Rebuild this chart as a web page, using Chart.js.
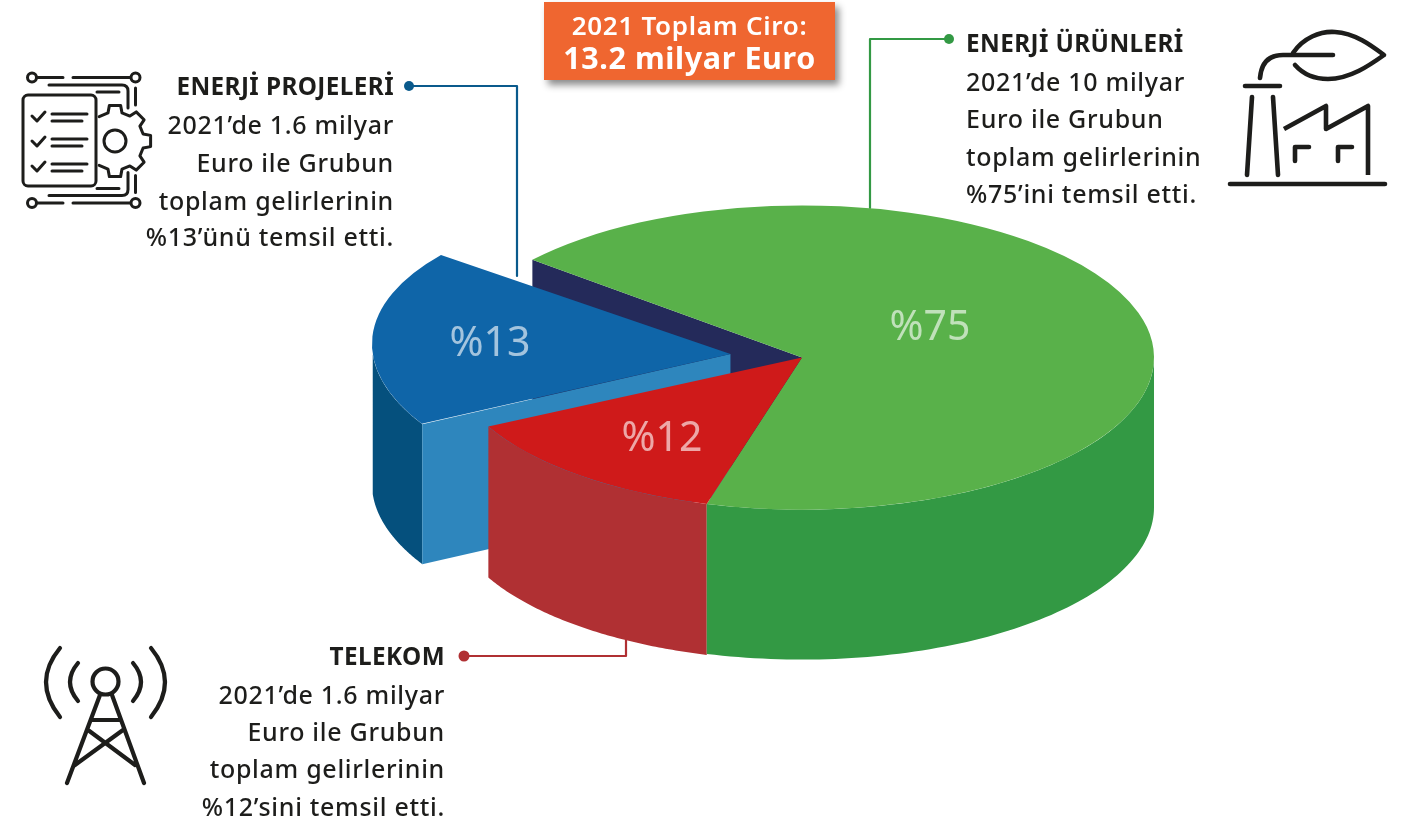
<!DOCTYPE html>
<html lang="tr"><head><meta charset="utf-8">
<script src="https://cdn.jsdelivr.net/npm/chart.js@4"></script>
<style>
html,body{margin:0;padding:0;background:#fff;overflow:hidden}
#stage{position:relative;width:1414px;height:825px;overflow:hidden;font-family:"Noto Sans",sans-serif;color:#1d1d1b}
#stage svg,#stage canvas{position:absolute;left:0;top:0}
.t{position:absolute;white-space:nowrap;font-size:25px;font-weight:500;line-height:38px;height:38px;letter-spacing:.7px}
.t.b{font-weight:700;font-size:24.3px;letter-spacing:.4px}
.r{text-align:right;transform:translateX(-100%)}
.p{position:absolute;font-size:41px;line-height:50px;color:rgba(255,255,255,.62);transform:translateX(-50%);white-space:nowrap}
#box{position:absolute;left:544px;top:2px;width:291px;height:78px;background:#ef6630;box-shadow:4px 5px 7px rgba(0,0,0,.45);color:#fff;text-align:center;font-weight:600}
#box div{position:absolute;left:0;right:0;white-space:nowrap}
</style></head><body>
<div id="stage">
<svg id="art" width="1414" height="825" fill="none" stroke="#1d1d1b" stroke-linecap="round" stroke-linejoin="round">
 <g stroke-width="2.2">
  <path stroke="#0a5a8c" d="M409 86H517V276"/>
  <path stroke="#339944" d="M949 39H870V208"/>
  <path stroke="#b03033" d="M464 656H626V640"/>
 </g>
 <circle cx="409" cy="86" r="5" fill="#0a5a8c" stroke="none"/>
 <circle cx="949" cy="39" r="5" fill="#339944" stroke="none"/>
 <circle cx="464" cy="656" r="5.5" fill="#b03033" stroke="none"/>
 <g stroke-width="3">
  <rect x="23" y="95" width="73" height="91" rx="5"/>
  <path d="M32 116l5 5l8-9M32 141l5 5l8-9M32 166l5 5l8-9"/>
  <path d="M52 114H87M52 121H82M52 139H87M52 146H82M52 164H87M52 171H82"/>
  <circle cx="115" cy="141" r="11"/>
  <path id="gear"/>
  <circle cx="32" cy="77.500" r="4.500"/><circle cx="135.500" cy="77.500" r="4.500"/>
  <circle cx="32" cy="203" r="4.500"/><circle cx="135.500" cy="203" r="4.500"/>
  <path d="M37 77.500H63M73 77.500H130M49 85H122Q128 85 128 91V108M97 92H119M135.500 88V105"/>
  <path d="M37 203H63M73 203H130M49 195.500H122Q128 195.500 128 189.500V172.500M97 188.500H119M135.500 192.500V175.500"/>
 </g>
 <g stroke-width="4.6">
  <path d="M1230 184H1385M1245 86H1280M1252 97L1247 175M1273 97L1278 175"/>
  <path d="M1284 129L1326 106V129L1368 106V175" stroke-linecap="butt"/>
  <path d="M1295 161V147H1309M1338 161V147H1352"/>
  <path d="M1260 78Q1262 55 1283 55H1333"/>
  <path d="M1293 53C1303 38 1320 31 1335 32C1355 33 1372 46 1384 55C1370 65 1350 79 1328 79C1315 79 1303 74 1295 65"/>
 </g>
 <g stroke-width="4.2">
  <circle cx="105.500" cy="681.500" r="13"/>
  <path d="M78 663Q62 682 78 701M133 663Q149 682 133 701M60 648Q32 682 60 717M151 648Q179 682 151 717"/>
  <path d="M100 695L67 783M112 695L144 783M92 720H120M88 730L135 765M123 730L75 765"/>
 </g>
</svg>
<canvas id="c" width="1414" height="825"></canvas>
<div id="labels"></div>
<div id="box">
 <div id="b1" style="top:6px;font-size:26px;line-height:34px;letter-spacing:.7px"></div>
 <div id="b2" style="top:35px;font-size:30.5px;line-height:40px;letter-spacing:.6px;font-weight:700"></div>
</div>
</div>
<script>
// Values printed on the picture
const segments = ['ENERJİ ÜRÜNLERİ', 'TELEKOM', 'ENERJİ PROJELERİ'];
const percentLabels = [75, 12, 13];
const billionEuro = ['10', '1.6', '1.6'];
const suffixes = ['’ini', '’sini', '’ünü'];
const year = '2021';
const totalBillion = '13.2';
// Sweep of each drawn slice, in degrees (the artwork is not to scale)
const drawnSweepDeg = [245.7, 47.3, 67];
// Styles
const topColors = ['#59b14a', '#cf1a1a', '#0f65a8'];
const wallColors = ['#339944', '#b03033', '#05507d'];
const cutColors = ['#242a5a', null, '#2e86bd'];
const explode = [0, 0, 288];
const depths = [150, 151, 140];
const skews = [0, 0, 0.15];
const TILT = 0.432;

const solid3d = {
  id: 'solid3d',
  beforeDatasetDraw(chart, args) {
    const ctx = chart.ctx, arcs = args.meta.data;
    const geom = arcs.map((a, i) => {
      const mid = (a.startAngle + a.endAngle) / 2, off = explode[i] / 4;
      // Chart.js widens an offset arc by offset * fix; follow it so wall and top share one rim
      const fix = 1 - Math.sin(Math.min(Math.PI, a.circumference));
      const r = a.outerRadius + off * fix, k = skews[i];
      if (k && !a.sheared) {
        // the exploded slice is drawn as a slightly sheared ellipse in the artwork
        const apexY = a.y + Math.sin(mid) * off;
        a.sheared = true;
        a.draw = function (c) {
          c.save();
          c.transform(1, 0, k * TILT, 1, -k * TILT * apexY, 0);
          Object.getPrototypeOf(a).draw.call(a, c);
          c.restore();
        };
      }
      return {a, k, cx: a.x + Math.cos(mid) * off, cy: a.y + Math.sin(mid) * off * TILT, rx: r, ry: r * TILT, d: depths[i]};
    });
    const rim = (g, ang) => [g.cx + g.rx * Math.cos(ang) + g.k * g.ry * Math.sin(ang), g.cy + g.ry * Math.sin(ang)];
    const cut = i => {
      const g = geom[i]; if (!cutColors[i]) return;
      const [px, py] = rim(g, g.a.startAngle);
      ctx.beginPath(); ctx.moveTo(g.cx, g.cy); ctx.lineTo(px, py); ctx.lineTo(px, py + g.d); ctx.lineTo(g.cx, g.cy + g.d); ctx.closePath();
      ctx.fillStyle = cutColors[i]; ctx.fill();
    };
    const wall = i => {
      const g = geom[i], s = Math.max(g.a.startAngle, 0), e = Math.min(g.a.endAngle, Math.PI), n = 80;
      ctx.beginPath();
      for (let t = 0; t <= n; t++) { const [x, y] = rim(g, s + (e - s) * t / n); ctx.lineTo(x, y); }
      for (let t = n; t >= 0; t--) { const [x, y] = rim(g, s + (e - s) * t / n); ctx.lineTo(x, y + g.d); }
      ctx.closePath();
      ctx.fillStyle = wallColors[i]; ctx.fill();
    };
    ctx.save();
    cut(0);
    wall(2); cut(2);
    wall(1);
    wall(0);
    const c = arcs[0];
    ctx.translate(c.x, c.y); ctx.scale(1, TILT); ctx.translate(-c.x, -c.y);
  },
  afterDatasetDraw(chart) { chart.ctx.restore(); }
};

new Chart(document.getElementById('c'), {
  type: 'pie',
  data: { labels: segments, datasets: [{ data: drawnSweepDeg, backgroundColor: topColors, borderWidth: 0, offset: explode, hoverOffset: 0, clip: false }] },
  options: {
    responsive: false, animation: false, radius: 352, rotation: -50,
    layout: { padding: { left: 190, bottom: 110 } },
    events: [],
    plugins: { legend: { display: false }, tooltip: { enabled: false } }
  },
  plugins: [solid3d]
});

// Text
const host = document.getElementById('labels');
function line(txt, x, y, right, bold) {
  const el = document.createElement('div');
  el.className = 't' + (right ? ' r' : '') + (bold ? ' b' : '');
  el.textContent = txt; el.style.left = x + 'px'; el.style.top = (y - 19) + 'px';
  host.appendChild(el);
}
function block(i, x, ys, right) {
  const lines = [segments[i], `${year}’de ${billionEuro[i]} milyar`, 'Euro ile Grubun', 'toplam gelirlerinin', `%${percentLabels[i]}${suffixes[i]} temsil etti.`];
  lines.forEach((l, k) => line(l, x, ys[k], right, k === 0));
}
block(0, 966, [43, 81, 118, 156, 193], false);
block(2, 394, [86, 124, 162, 200, 236], true);
block(1, 445, [656, 694, 731, 768, 806], true);
[[930, 324], [662, 435], [490, 340]].forEach((p, i) => {
  const el = document.createElement('div'); el.className = 'p';
  el.textContent = '%' + percentLabels[i]; el.style.left = p[0] + 'px'; el.style.top = (p[1] - 25) + 'px';
  host.appendChild(el);
});
document.getElementById('b1').textContent = `${year} Toplam Ciro:`;
document.getElementById('b2').textContent = `${totalBillion} milyar Euro`;

// Gear outline of the top-left icon (open towards the document)
(function () {
  const cx = 115, cy = 141, R1 = 29, R2 = 36; let d = '';
  const pt = (r, deg) => { const a = deg * Math.PI / 180; return (cx + r * Math.cos(a)).toFixed(1) + ' ' + (cy + r * Math.sin(a)).toFixed(1); };
  d = 'M' + pt(R1, -123);
  for (let k = -2; k <= 2; k++) {
    const m = k * 45;
    d += 'L' + pt(R1, m - 14) + 'L' + pt(R2, m - 9) + 'L' + pt(R2, m + 9) + 'L' + pt(R1, m + 14);
  }
  d += 'L' + pt(R1, 123);
  document.getElementById('gear').setAttribute('d', d);
})();
</script>
</body></html>
